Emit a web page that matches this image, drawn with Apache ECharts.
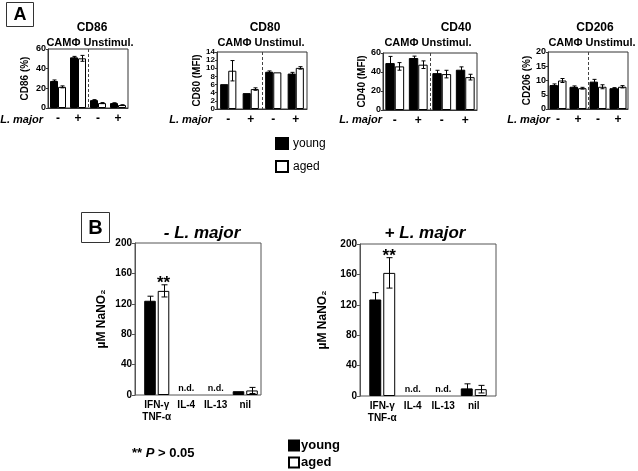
<!DOCTYPE html>
<html><head><meta charset="utf-8">
<script src="https://cdn.jsdelivr.net/npm/echarts@6/dist/echarts.min.js"></script>
<style>html,body{margin:0;padding:0;background:#fff}#c{width:638px;height:471px}</style>
</head><body><div id="c"></div>
<script>
// ---------- Panel A data ----------
const stimCats = ['-', '+', '-', '+'];
const cd86Young = [27.5, 51.5, 8, 5];
const cd86YoungErr = [1, 1, 0.5, 0.3];
const cd86Aged = [21.5, 50.5, 5, 3];
const cd86AgedErr = [1, 3, 0.5, 0.3];
const cd80Young = [6.1, 3.9, 9.15, 8.7];
const cd80YoungErr = [0, 0, 0.2, 0.3];
const cd80Aged = [9.4, 4.9, 9.0, 10.1];
const cd80AgedErr = [2.5, 0.3, 0, 0.3];
const cd40Young = [49.4, 54.7, 38.8, 42.4];
const cd40YoungErr = [7, 2, 3, 3];
const cd40Aged = [45.9, 47.7, 37.8, 34.6];
const cd40AgedErr = [4, 4, 4, 3];
const cd206Young = [8.4, 7.8, 9.6, 7.3];
const cd206YoungErr = [0.4, 0.3, 0.8, 0.2];
const cd206Aged = [10.0, 7.3, 7.8, 7.8];
const cd206AgedErr = [0.7, 0.3, 0.7, 0.4];
// ---------- Panel B data ----------
const cytoCats = ['IFN-\u03b3\nTNF-\u03b1', 'IL-4', 'IL-13', 'nil'];
const noLmYoung = [124, null, null, 5];
const noLmYoungErr = [6, 0, 0, 0];
const noLmAged = [137, null, null, 6];
const noLmAgedErr = [8, 0, 0, 4];
const noLmSig = ['**', '', '', ''];
const lmYoung = [127, null, null, 10];
const lmYoungErr = [9, 0, 0, 6];
const lmAged = [162, null, null, 9];
const lmAgedErr = [20, 0, 0, 5];
const lmSig = ['**', '', '', ''];

const FF = "'Liberation Sans', Arial, sans-serif";
const grid = [], xAxis = [], yAxis = [], series = [], graphic = [];

function txt(text, x, y, font, align, valign, extra) {
  return Object.assign({type: 'text', x: x, y: y, silent: true, style: {
    text: text, font: font + ' ' + FF, fill: '#000',
    align: align, verticalAlign: valign, textAlign: align, textVerticalAlign: valign}}, extra || {});
}

function errSeries(gi, young, yErr, aged, aErr, cg, gap, capW, sig, nd, sepMax) {
  return {
    type: 'custom', xAxisIndex: gi, yAxisIndex: gi, silent: true, z: 10, clip: false,
    data: young.map((v, i) => [i, 0]),
    renderItem: function (params, api) {
      const i = params.dataIndex;
      const band = api.size([1, 0])[0];
      const bw = band * (1 - cg) / (2 + gap);
      const off = bw * (1 + gap) / 2;
      const base = api.coord([i, 0]);
      const ch = [];
      if (sepMax && i === 2) {
        const sx = Math.round(base[0] - band / 2) + 0.5;
        const top = api.coord([i, sepMax])[1];
        ch.push({type: 'line', shape: {x1: sx, y1: top, x2: sx, y2: base[1]},
          style: {stroke: '#444', lineWidth: 1, lineDash: [3, 2]}});
      }
      [[young, yErr, -1], [aged, aErr, 1]].forEach(function (g) {
        const v = g[0][i]; if (v == null) return;
        const e = g[1][i]; const cx = Math.round(base[0] + g[2] * off) + 0.5;
        if (e > 0) {
          const t = api.coord([i, v + e])[1], b = api.coord([i, Math.max(0, v - e)])[1];
          const st = {stroke: '#000', lineWidth: 1};
          ch.push({type: 'line', shape: {x1: cx, y1: t, x2: cx, y2: b}, style: st});
          ch.push({type: 'line', shape: {x1: cx - capW / 2, y1: t, x2: cx + capW / 2, y2: t}, style: st});
          ch.push({type: 'line', shape: {x1: cx - capW / 2, y1: b, x2: cx + capW / 2, y2: b}, style: st});
        }
      });
      if (nd && young[i] == null && aged[i] == null) {
        ch.push({type: 'text', x: base[0], y: base[1] - 2, style: {text: 'n.d.', font: 'bold 9px ' + FF, fill: '#000',
          align: 'center', verticalAlign: 'bottom', textAlign: 'center', textVerticalAlign: 'bottom'}});
      }
      if (sig && sig[i]) {
        const v = aged[i] + (aErr[i] || 0);
        const y = api.coord([i, v])[1];
        ch.push({type: 'text', x: base[0] + off, y: y + 7, style: {text: sig[i], font: 'bold 17px ' + FF, fill: '#000',
          align: 'center', verticalAlign: 'bottom', textAlign: 'center', textVerticalAlign: 'bottom'}});
      }
      return {type: 'group', children: ch};
    }
  };
}

function barPair(gi, young, aged, cg, gap) {
  const common = {type: 'bar', xAxisIndex: gi, yAxisIndex: gi, barGap: gap, barCategoryGap: cg, silent: true};
  series.push(Object.assign({name: 'young', data: young, itemStyle: {color: '#000', borderColor: '#000', borderWidth: 1}}, common));
  series.push(Object.assign({name: 'aged', data: aged, itemStyle: {color: '#fff', borderColor: '#000', borderWidth: 1}}, common));
}

// ---------- Panel A ----------
const panelsA = [
  {title: 'CD86', yname: 'CD86 (%)', max: 60, interval: 20, rect: {left: 48, top: 49, width: 80, height: 59}, gap: 18, cg: 0.2, tx: 92, sx: 90, lx: 43, fs: 9,
   y: cd86Young, ye: cd86YoungErr, a: cd86Aged, ae: cd86AgedErr},
  {title: 'CD80', yname: 'CD80 (MFI)', max: 14, interval: 2, rect: {left: 217, top: 52, width: 90, height: 57}, gap: 8, cg: 0.28, tx: 265, sx: 261, lx: 212, fs: 8,
   y: cd80Young, ye: cd80YoungErr, a: cd80Aged, ae: cd80AgedErr},
  {title: 'CD40', yname: 'CD40 (MFI)', max: 60, interval: 20, rect: {left: 383, top: 53, width: 94, height: 57}, gap: 13, cg: 0.2, tx: 456, sx: 428, lx: 382, fs: 9,
   y: cd40Young, ye: cd40YoungErr, a: cd40Aged, ae: cd40AgedErr},
  {title: 'CD206', yname: 'CD206 (%)', max: 20, interval: 5, rect: {left: 548, top: 52, width: 80, height: 57}, gap: 12, cg: 0.15, tx: 595, sx: 592, lx: 550, fs: 9,
   y: cd206Young, ye: cd206YoungErr, a: cd206Aged, ae: cd206AgedErr}
];
panelsA.forEach(function (p, gi) {
  grid.push(Object.assign({show: true, borderColor: '#333', borderWidth: 1, backgroundColor: 'transparent'}, p.rect));
  xAxis.push({type: 'category', gridIndex: gi, data: stimCats,
    axisLine: {lineStyle: {color: '#333'}}, axisTick: {show: false},
    axisLabel: {color: '#000', fontWeight: 'bold', fontSize: 12, margin: 5, fontFamily: FF},
    splitLine: {show: false}});
  yAxis.push({type: 'value', gridIndex: gi, min: 0, max: p.max, interval: p.interval,
    name: p.yname, nameLocation: 'middle', nameRotate: 90, nameGap: p.gap,
    nameTextStyle: {fontWeight: 'bold', fontSize: 10, color: '#000', fontFamily: FF},
    axisLine: {show: true, lineStyle: {color: '#333'}}, axisTick: {show: true, length: 2, lineStyle: {color: '#333'}},
    axisLabel: {fontSize: p.fs, fontWeight: 'bold', color: '#000', margin: 2, fontFamily: FF,
      showMinLabel: true, showMaxLabel: true, hideOverlap: false},
    splitLine: {show: false}});
  barPair(gi, p.y, p.a, (p.cg * 100) + '%', '0%');
  series.push(errSeries(gi, p.y, p.ye, p.a, p.ae, p.cg, 0, 4, null, false, p.max));
  graphic.push(txt(p.title, p.tx, 28, 'bold 12px', 'center', 'middle'));
  graphic.push(txt('CAM\u03a6 Unstimul.', p.sx, 43, 'bold 11px', 'center', 'middle'));
  graphic.push(txt('L. major', p.lx, 120, 'italic bold 11px', 'right', 'middle'));
});

// ---------- Panel B ----------
const panelsB = [
  {frame: {left: 135, top: 243, width: 126, height: 152}, bars: {left: 142, top: 243, width: 118, height: 152}, gap: 27, title: '- L. major', tx: 202,
   y: noLmYoung, ye: noLmYoungErr, a: noLmAged, ae: noLmAgedErr, sig: noLmSig},
  {frame: {left: 360, top: 244, width: 136, height: 152}, bars: {left: 367, top: 244, width: 122, height: 152}, gap: 31, title: '+ L. major', tx: 425,
   y: lmYoung, ye: lmYoungErr, a: lmAged, ae: lmAgedErr, sig: lmSig}
];
panelsB.forEach(function (p) {
  const fi = grid.length;
  grid.push(Object.assign({show: true, borderColor: '#555', borderWidth: 1, backgroundColor: 'transparent'}, p.frame));
  xAxis.push({type: 'value', gridIndex: fi, show: false, min: 0, max: 1});
  yAxis.push({type: 'value', gridIndex: fi, min: 0, max: 200, interval: 40,
    name: '\u00b5M NaNO\u2082', nameLocation: 'middle', nameRotate: 90, nameGap: p.gap,
    nameTextStyle: {fontWeight: 'bold', fontSize: 12, color: '#000', fontFamily: FF},
    axisLine: {show: true, lineStyle: {color: '#555'}}, axisTick: {show: true, length: 3, lineStyle: {color: '#555'}},
    axisLabel: {fontSize: 10, fontWeight: 'bold', color: '#000', margin: 3, fontFamily: FF},
    splitLine: {show: false}});
  const bi = grid.length;
  grid.push(p.bars);
  xAxis.push({type: 'category', gridIndex: bi, data: cytoCats,
    axisLine: {show: false}, axisTick: {show: false},
    axisLabel: {color: '#000', fontWeight: 'bold', fontSize: 10, margin: 4, lineHeight: 12, fontFamily: FF, interval: 0}});
  yAxis.push({type: 'value', gridIndex: bi, min: 0, max: 200, show: false});
  barPair(bi, p.y, p.a, '15%', '17%');
  series.push(errSeries(bi, p.y, p.ye, p.a, p.ae, 0.15, 0.17, 6, p.sig, true, null));
  graphic.push(txt(p.title, p.tx, 233, 'italic bold 17px', 'center', 'middle'));
});

// panel letters
graphic.push({type: 'rect', silent: true, shape: {x: 6.5, y: 2.5, width: 27, height: 24}, style: {fill: '#fff', stroke: '#333', lineWidth: 1}});
graphic.push(txt('A', 20, 15, 'bold 18px', 'center', 'middle'));
graphic.push({type: 'rect', silent: true, shape: {x: 81.5, y: 212.5, width: 28, height: 30}, style: {fill: '#fff', stroke: '#333', lineWidth: 1}});
graphic.push(txt('B', 95.5, 228, 'bold 20px', 'center', 'middle'));
// significance footnote
graphic.push({type: 'text', x: 132, y: 453, silent: true, style: {
  text: '{a|** }{b|P}{a| > 0.05}', fill: '#000', verticalAlign: 'middle', textVerticalAlign: 'middle',
  rich: {a: {font: 'bold 13px ' + FF, fill: '#000'}, b: {font: 'italic bold 13px ' + FF, fill: '#000'}}}});

const option = {
  animation: false,
  backgroundColor: '#fff',
  grid: grid, xAxis: xAxis, yAxis: yAxis, series: series, graphic: graphic,
  legend: [
    {left: 275, top: 137, orient: 'vertical', padding: 0, itemWidth: 12, itemHeight: 11, itemGap: 10, selectedMode: false,
     icon: 'rect', textStyle: {fontSize: 12, color: '#000', fontFamily: FF}, data: ['young', 'aged']},
    {left: 288, top: 439, orient: 'vertical', padding: 0, itemWidth: 10, itemHeight: 10, itemGap: 4, selectedMode: false,
     icon: 'rect', textStyle: {fontSize: 13, fontWeight: 'bold', color: '#000', fontFamily: FF, padding: [0, 0, 0, -3]}, data: ['young', 'aged']}
  ]
};
const chart = echarts.init(document.getElementById('c'), null, {renderer: 'canvas'});
chart.setOption(option);
</script></body></html>
